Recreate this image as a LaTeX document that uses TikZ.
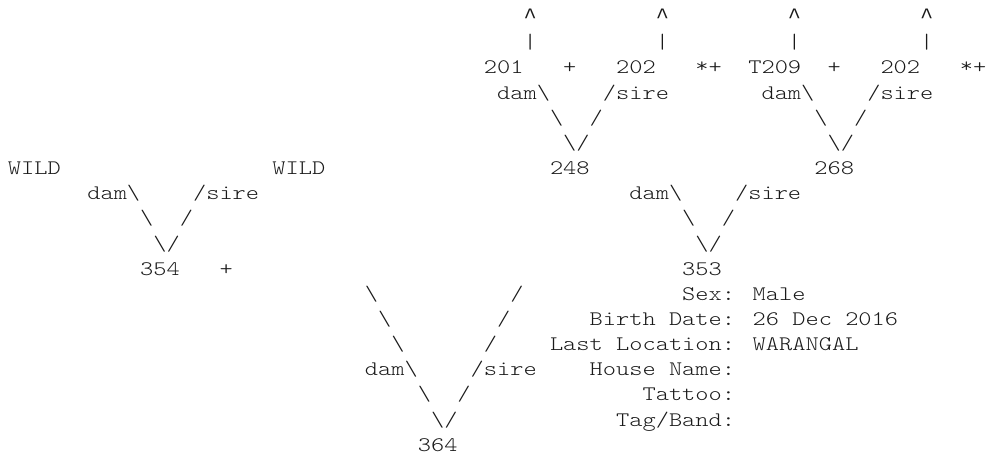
\documentclass[tikz,border=0pt]{standalone}
\usepackage{fontspec}
\newfontfamily\pedtt{Latin Modern Mono Light}[FakeStretch=1.2184]
\newfontfamily\caretfont{Liberation Mono}
\usepackage{xcolor}
\definecolor{ink}{HTML}{1A1A1A}
\newcommand\bsl{\textbackslash}
\newcommand\upmark{{\caretfont\fontsize{16.5pt}{18pt}\selectfont\textasciicircum}}
\newcommand\inbred{\raisebox{1.2pt}{*}}
\newcommand\pedfont{\pedtt\fontsize{15.5pt}{18pt}\selectfont}
\tikzset{asc/.style={anchor=base west,inner sep=0pt,outer sep=0pt,font=\pedfont,text=ink}}

\begin{document}
\begin{tikzpicture}[x=9.915pt,y=-18.86pt]
  \useasboundingbox (-0.605,-0.942) rectangle (74.13,17.47);

  % Grandparents of 353: arrows up
  \node[asc] (up1) at (39,0) {\upmark};
  \node[asc] (up2) at (49,0) {\upmark};
  \node[asc] (up3) at (59,0) {\upmark};
  \node[asc] (up4) at (69,0) {\upmark};
  \node[asc] (bar1) at (39,1) {|};
  \node[asc] (bar2) at (49,1) {|};
  \node[asc] (bar3) at (59,1) {|};
  \node[asc] (bar4) at (69,1) {|};
  \node[asc] (n201) at (36,2) {201};
  \node[asc] (p201) at (42,2) {+};
  \node[asc] (n202a) at (46,2) {202};
  \node[asc] (p202a) at (52,2) {\inbred+};
  \node[asc] (t209) at (56,2) {T209};
  \node[asc] (pt209) at (62,2) {+};
  \node[asc] (n202b) at (66,2) {202};
  \node[asc] (p202b) at (72,2) {\inbred+};

  % 248 and 268
  \node[asc] (d248) at (37,3) {dam\bsl};
  \node[asc] (s248) at (45,3) {/sire};
  \node[asc] (d268) at (57,3) {dam\bsl};
  \node[asc] (s268) at (65,3) {/sire};
  \node[asc] (l248) at (41,4) {\bsl};
  \node[asc] (r248) at (44,4) {/};
  \node[asc] (l268) at (61,4) {\bsl};
  \node[asc] (r268) at (64,4) {/};
  \node[asc] (v248) at (42,5) {\bsl/};
  \node[asc] (v268) at (62,5) {\bsl/};
  \node[asc] (n248) at (41,6) {248};
  \node[asc] (n268) at (61,6) {268};

  % 354 (wild parents) and 353
  \node[asc] (wildd) at (0,6) {WILD};
  \node[asc] (wilds) at (20,6) {WILD};
  \node[asc] (d354) at (6,7) {dam\bsl};
  \node[asc] (s354) at (14,7) {/sire};
  \node[asc] (d353) at (47,7) {dam\bsl};
  \node[asc] (s353) at (55,7) {/sire};
  \node[asc] (l354) at (10,8) {\bsl};
  \node[asc] (r354) at (13,8) {/};
  \node[asc] (l353) at (51,8) {\bsl};
  \node[asc] (r353) at (54,8) {/};
  \node[asc] (v354) at (11,9) {\bsl/};
  \node[asc] (v353) at (52,9) {\bsl/};
  \node[asc] (n354) at (10,10) {354};
  \node[asc] (p354) at (16,10) {+};
  \node[asc] (n353) at (51,10) {353};

  % 364
  \node[asc] (la364) at (27,11) {\bsl};
  \node[asc] (ra364) at (38,11) {/};
  \node[asc] (lb364) at (28,12) {\bsl};
  \node[asc] (rb364) at (37,12) {/};
  \node[asc] (lc364) at (29,13) {\bsl};
  \node[asc] (rc364) at (36,13) {/};
  \node[asc] (d364) at (27,14) {dam\bsl};
  \node[asc] (s364) at (35,14) {/sire};
  \node[asc] (ld364) at (31,15) {\bsl};
  \node[asc] (rd364) at (34,15) {/};
  \node[asc] (v364) at (32,16) {\bsl/};
  \node[asc] (n364) at (31,17) {364};

  % Details of 353
  \node[asc] (sex) at (51,11) {Sex: Male};
  \node[asc] (birth) at (44,12) {Birth Date: 26 Dec 2016};
  \node[asc] (loc) at (41,13) {Last Location: WARANGAL};
  \node[asc] (house) at (44,14) {House Name:};
  \node[asc] (tattoo) at (48,15) {Tattoo:};
  \node[asc] (tag) at (46,16) {Tag/Band:};
\end{tikzpicture}
\end{document}
